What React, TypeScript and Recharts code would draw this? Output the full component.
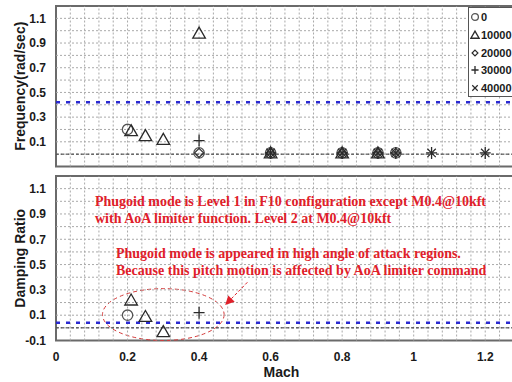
import React from 'react';
import {
  ScatterChart,
  Scatter,
  XAxis,
  YAxis,
  ReferenceLine,
  ReferenceArea,
} from 'recharts';

// Axis ticks and grid
const machTicks = [0, 0.2, 0.4, 0.6, 0.8, 1, 1.2];
const valueTicks = [-0.1, 0.1, 0.3, 0.5, 0.7, 0.9, 1.1];
const machGrid = [0.04, 0.08, 0.12, 0.16, 0.2, 0.24, 0.28, 0.32, 0.36, 0.4, 0.44, 0.48, 0.52, 0.56, 0.6, 0.64, 0.68, 0.72, 0.76, 0.8, 0.84, 0.88, 0.92, 0.96, 1, 1.04, 1.08, 1.12, 1.16, 1.2, 1.24, 1.28];
const valueGrid = [0, 0.1, 0.2, 0.3, 0.4, 0.5, 0.6, 0.7, 0.8, 0.9, 1, 1.1];

const altitudes = ['0', '10000', '20000', '30000', '40000'];

// Phugoid frequency (rad/sec) by altitude
const freq0 = [
  { mach: 0.2, value: 0.2 },
  { mach: 0.4, value: 0.01 },
  { mach: 0.6, value: 0.01 },
  { mach: 0.8, value: 0.01 },
  { mach: 0.9, value: 0.01 },
  { mach: 0.95, value: 0.01 },
];
const freq10k = [
  { mach: 0.21, value: 0.19 },
  { mach: 0.25, value: 0.15 },
  { mach: 0.3, value: 0.12 },
  { mach: 0.4, value: 0.98 },
  { mach: 0.6, value: 0.01 },
  { mach: 0.8, value: 0.01 },
  { mach: 0.9, value: 0.01 },
];
const freq20k = [
  { mach: 0.4, value: 0.01 },
  { mach: 0.6, value: 0.01 },
  { mach: 0.8, value: 0.01 },
  { mach: 0.9, value: 0.01 },
  { mach: 0.95, value: 0.01 },
];
const freq30k = [
  { mach: 0.4, value: 0.11 },
  { mach: 0.6, value: 0.01 },
  { mach: 0.8, value: 0.01 },
  { mach: 0.9, value: 0.01 },
  { mach: 0.95, value: 0.01 },
  { mach: 1.05, value: 0.01 },
  { mach: 1.2, value: 0.01 },
];
const freq40k = [
  { mach: 0.6, value: 0.01 },
  { mach: 0.8, value: 0.01 },
  { mach: 0.9, value: 0.01 },
  { mach: 0.95, value: 0.01 },
  { mach: 1.05, value: 0.01 },
  { mach: 1.2, value: 0.01 },
];

// Phugoid damping ratio by altitude
const damp0 = [{ mach: 0.2, value: 0.1 }];
const damp10k = [
  { mach: 0.21, value: 0.22 },
  { mach: 0.25, value: 0.09 },
  { mach: 0.3, value: -0.03 },
];
const damp30k = [{ mach: 0.4, value: 0.12 }];

// Level 1 boundaries
const freqLimit = 0.42;
const dampLimit = 0.04;

const note1 = [
  'Phugoid mode is Level 1 in F10 configuration except M0.4@10kft',
  'with AoA limiter function. Level 2 at M0.4@10kft',
];
const note2 = [
  'Phugoid mode is appeared in high angle of attack regions.',
  'Because this pitch motion is affected by AoA limiter command',
];

const ink = '#2a2a2a';
const red = '#e0202a';
const blue = '#2a2ad0';
const sans = '"Liberation Sans", Arial, sans-serif';
const serif = '"Liberation Serif", "Times New Roman", serif';

const CircleMark = ({ cx, cy, s = 1 }: any) => (
  <circle cx={cx} cy={cy} r={5.2 * s} fill="none" stroke="#555" strokeWidth={1.3} />
);
const TriangleMark = ({ cx, cy, s = 1 }: any) => (
  <path
    d={`M${cx},${cy - 6 * s} L${cx + 6.3 * s},${cy + 5 * s} L${cx - 6.3 * s},${cy + 5 * s} Z`}
    fill="none"
    stroke={ink}
    strokeWidth={1.3}
  />
);
const DiamondMark = ({ cx, cy, s = 1 }: any) => (
  <path
    d={`M${cx},${cy - 4.5 * s} L${cx + 4.5 * s},${cy} L${cx},${cy + 4.5 * s} L${cx - 4.5 * s},${cy} Z`}
    fill="none"
    stroke={ink}
    strokeWidth={1.2}
  />
);
const PlusMark = ({ cx, cy, s = 1 }: any) => (
  <path
    d={`M${cx - 5.5 * s},${cy} L${cx + 5.5 * s},${cy} M${cx},${cy - 6 * s} L${cx},${cy + 6 * s}`}
    stroke={ink}
    strokeWidth={1.3}
  />
);
const CrossMark = ({ cx, cy, s = 1 }: any) => (
  <path
    d={`M${cx - 4.2 * s},${cy - 4.2 * s} L${cx + 4.2 * s},${cy + 4.2 * s} M${cx - 4.2 * s},${cy + 4.2 * s} L${cx + 4.2 * s},${cy - 4.2 * s}`}
    stroke={ink}
    strokeWidth={1.2}
  />
);

const marks = [CircleMark, TriangleMark, DiamondMark, PlusMark, CrossMark];

const tickStyle = { fontFamily: sans, fontWeight: 700, fontSize: 12, fill: '#1a1a1a' };

const yTitle = (text: string) => (props: any) => {
  const { y, height } = props.viewBox;
  const cy = y + height / 2;
  return (
    <text
      x={20}
      y={cy}
      transform={`rotate(-90, 20, ${cy})`}
      textAnchor="middle"
      dominantBaseline="central"
      style={{ fontFamily: sans, fontWeight: 700, fontSize: 14, fill: '#1a1a1a' }}
    >
      {text}
    </text>
  );
};

const xTitle = (props: any) => {
  const { x, y, width } = props.viewBox;
  return (
    <text
      x={x + width / 2 - 7}
      y={y + 36}
      textAnchor="middle"
      style={{ fontFamily: sans, fontWeight: 700, fontSize: 14, fill: '#1a1a1a' }}
    >
      Mach
    </text>
  );
};

const gridLines = () => [
  ...machGrid.map((v) => (
    <ReferenceLine key={`gx${v}`} x={v} stroke="#a9a9a9" strokeDasharray="2 2" />
  )),
  ...valueGrid.map((v) => (
    <ReferenceLine key={`gy${v}`} y={v} stroke="#a9a9a9" strokeDasharray="2 2" />
  )),
];

const frame = (
  <ReferenceArea
    x1={0}
    x2={1.3}
    y1={-0.1}
    y2={1.2}
    fill="none"
    stroke="#6a6a6a"
    strokeWidth={2}
    fillOpacity={0}
  />
);

// dashed ellipse drawn inside the reference area's box
const EllipseShape = (props: any) => {
  const { x, y, width, height } = props;
  return (
    <ellipse
      cx={x + width / 2}
      cy={y + height / 2}
      rx={width / 2}
      ry={height / 2}
      fill="none"
      stroke="#d43a3a"
      strokeWidth={1}
      strokeDasharray="4 3"
    />
  );
};

// dashed pointer with a solid head
const ArrowShape = (props: any) => {
  const { x1, y1, x2, y2 } = props;
  const a = Math.atan2(y2 - y1, x2 - x1);
  const len = 9;
  const w = 4.5;
  const bx = x2 - len * Math.cos(a);
  const by = y2 - len * Math.sin(a);
  const px = -Math.sin(a) * w;
  const py = Math.cos(a) * w;
  return (
    <g>
      <line x1={x1} y1={y1} x2={bx} y2={by} stroke={red} strokeWidth={1} strokeDasharray="3 2" />
      <path d={`M${x2},${y2} L${bx + px},${by + py} L${bx - px},${by - py} Z`} fill={red} />
    </g>
  );
};

const LegendBox = () => (
  <div
    style={{
      position: 'absolute',
      left: 468,
      top: 7,
      width: 60,
      height: 90,
      border: '1px solid #555',
      background: '#fff',
      boxSizing: 'border-box',
    }}
  >
    {altitudes.map((alt, i) => {
      const Mark = marks[i];
      return (
        <div
          key={alt}
          style={{
            position: 'absolute',
            left: 1,
            top: 2 + i * 17.8,
            height: 14,
            display: 'flex',
            alignItems: 'center',
            fontFamily: sans,
            fontWeight: 700,
            fontSize: 11,
            color: '#1a1a1a',
          }}
        >
          <svg width={10} height={12}>
            <Mark cx={5} cy={6} s={0.65} />
          </svg>
          <span style={{ marginLeft: 1 }}>{alt}</span>
        </div>
      );
    })}
  </div>
);

const noteStyle: React.CSSProperties = {
  position: 'absolute',
  fontFamily: serif,
  fontWeight: 700,
  fontSize: 14,
  lineHeight: '16.8px',
  color: red,
  whiteSpace: 'nowrap',
};

export default function App() {
  const chartW = 530;
  return (
    <div
      style={{
        position: 'absolute',
        left: 0,
        top: 0,
        width: 512,
        height: 382,
        overflow: 'hidden',
        background: '#fff',
      }}
    >
      <div style={{ position: 'absolute', left: 0, top: 0 }}>
        <ScatterChart width={chartW} height={170} margin={{ top: 6, right: 9, bottom: 3.5, left: 0 }}>
          <XAxis type="number" dataKey="mach" domain={[0, 1.3]} hide allowDataOverflow />
          <YAxis
            type="number"
            dataKey="value"
            domain={[-0.1, 1.2]}
            ticks={valueTicks}
            width={56}
            tickLine={false}
            axisLine={false}
            tickMargin={4}
            tick={tickStyle}
            tickFormatter={(v: number) => v.toFixed(1)}
            label={yTitle('Frequency(rad/sec)')}
            allowDataOverflow
          />
          {gridLines()}
          <ReferenceLine y={0} stroke="#333" strokeDasharray="3 2" />
          <ReferenceLine y={freqLimit} stroke={blue} strokeWidth={2.5} strokeDasharray="4 6" />
          {frame}
          <Scatter data={freq0} shape={CircleMark} isAnimationActive={false} />
          <Scatter data={freq10k} shape={TriangleMark} isAnimationActive={false} />
          <Scatter data={freq20k} shape={DiamondMark} isAnimationActive={false} />
          <Scatter data={freq30k} shape={PlusMark} isAnimationActive={false} />
          <Scatter data={freq40k} shape={CrossMark} isAnimationActive={false} />
        </ScatterChart>
      </div>
      <div style={{ position: 'absolute', left: 0, top: 170 }}>
        <ScatterChart width={chartW} height={212} margin={{ top: 6, right: 9, bottom: 0, left: 0 }}>
          <XAxis
            type="number"
            dataKey="mach"
            domain={[0, 1.3]}
            ticks={machTicks}
            height={41.5}
            tickLine={false}
            axisLine={false}
            tickMargin={6}
            tick={tickStyle}
            label={xTitle}
            allowDataOverflow
          />
          <YAxis
            type="number"
            dataKey="value"
            domain={[-0.1, 1.2]}
            ticks={valueTicks}
            width={56}
            tickLine={false}
            axisLine={false}
            tickMargin={4}
            tick={tickStyle}
            tickFormatter={(v: number) => v.toFixed(1)}
            label={yTitle('Damping Ratio')}
            allowDataOverflow
          />
          {gridLines()}
          <ReferenceLine y={0} stroke="#333" strokeDasharray="3 2" />
          <ReferenceLine y={dampLimit} stroke={blue} strokeWidth={2.5} strokeDasharray="4 6" />
          {frame}
          <ReferenceArea x1={0.13} x2={0.47} y1={-0.1} y2={0.31} shape={EllipseShape} />
          <ReferenceLine
            segment={[
              { x: 0.535, y: 0.36 },
              { x: 0.473, y: 0.18 },
            ]}
            shape={ArrowShape}
          />
          <Scatter data={damp0} shape={CircleMark} isAnimationActive={false} />
          <Scatter data={damp10k} shape={TriangleMark} isAnimationActive={false} />
          <Scatter data={damp30k} shape={PlusMark} isAnimationActive={false} />
        </ScatterChart>
      </div>
      <LegendBox />
      <div style={{ ...noteStyle, left: 95, top: 194 }}>
        {note1.map((l) => (
          <div key={l}>{l}</div>
        ))}
      </div>
      <div style={{ ...noteStyle, left: 116, top: 246 }}>
        {note2.map((l) => (
          <div key={l}>{l}</div>
        ))}
      </div>
    </div>
  );
}
